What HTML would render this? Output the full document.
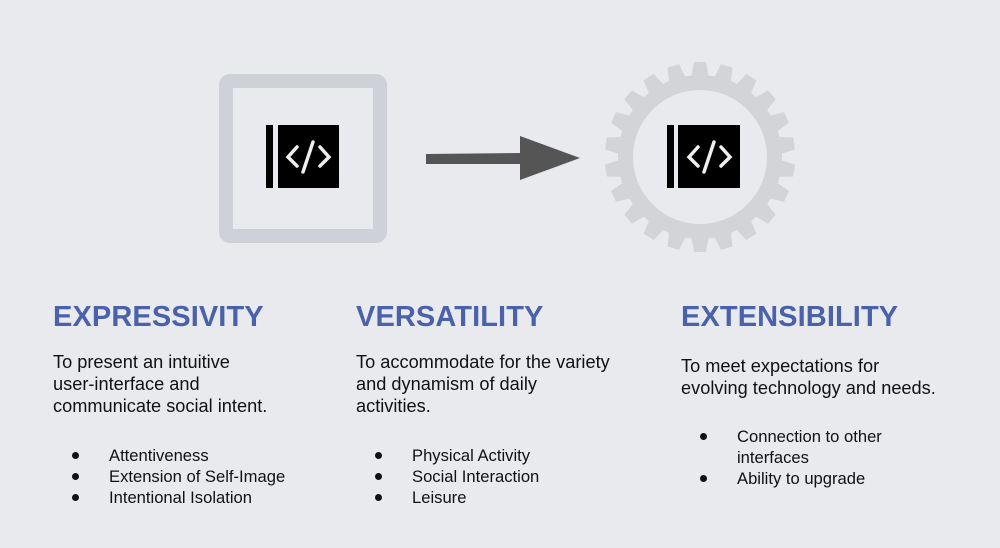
<!DOCTYPE html>
<html><head><meta charset="utf-8"><style>
body{margin:0;width:1000px;height:548px;background:#e9eaee;position:relative;overflow:hidden;font-family:"Liberation Sans",sans-serif;color:#111}
.h{position:absolute;top:301px;font-size:29px;font-weight:bold;color:#4a61ab;letter-spacing:0.1px}
.p{position:absolute;top:351px;font-size:18.2px;line-height:22px}
.ul{position:absolute;font-size:16.6px;line-height:21px}
.ul div{position:relative;padding-left:56px}
.ul div:before{content:"";position:absolute;left:19px;top:7px;width:7px;height:7px;border-radius:50%;background:#111}
</style></head><body>
<svg width="1000" height="548" style="position:absolute;left:0;top:0">
<rect x="226" y="81" width="154" height="155" rx="4" fill="none" stroke="#ced1d8" stroke-width="14"/>
<rect x="266" y="125" width="7" height="63" fill="#000"/>
<rect x="278" y="125" width="61" height="63" fill="#000"/>
<g fill="none" stroke="#eee" stroke-width="3.5" stroke-linecap="round">
<polyline points="297,147 288,157 297,166"/><polyline points="320,147 329,157 320,166"/><line x1="313" y1="142" x2="303" y2="172"/></g>
<polygon points="426,154 520,153 520,136 580,158 520,180 520,164 426,164" fill="#555"/>
<g transform="translate(700,157)" fill="#d3d4d8">
<circle r="82"/>
</g>
<g transform="translate(700,157)" fill="#d3d4d8" id="teeth"></g>
<circle cx="700" cy="157" r="67" fill="#e9eaee"/>
<rect x="667" y="125" width="7" height="63" fill="#000"/>
<rect x="678" y="125" width="62" height="63" fill="#000"/>
<g fill="none" stroke="#eee" stroke-width="3.5" stroke-linecap="round">
<polyline points="698,147 689,157 698,166"/><polyline points="721,147 730,157 721,166"/><line x1="714" y1="142" x2="704" y2="172"/></g>
</svg>
<script>
var g=document.getElementById('teeth'),s='';
for(var i=0;i<22;i++){s+='<polygon transform="rotate('+(i*360/22)+')" points="-6,-95 6,-95 9,-78 -9,-78"/>';}
g.innerHTML=s;
</script>
<div class="h" style="left:53px">EXPRESSIVITY</div>
<div class="h" style="left:356px">VERSATILITY</div>
<div class="h" style="left:681px">EXTENSIBILITY</div>
<div class="p" style="left:53px">To present an intuitive<br>user-interface and<br>communicate social intent.</div>
<div class="p" style="left:356px">To accommodate for the variety<br>and dynamism of daily<br>activities.</div>
<div class="p" style="left:681px;top:355px">To meet expectations for<br>evolving technology and needs.</div>
<div class="ul" style="left:53px;top:445px"><div>Attentiveness</div><div>Extension of Self-Image</div><div>Intentional Isolation</div></div>
<div class="ul" style="left:356px;top:445px"><div>Physical Activity</div><div>Social Interaction</div><div>Leisure</div></div>
<div class="ul" style="left:681px;top:426px"><div>Connection to other<br>interfaces</div><div>Ability to upgrade</div></div>
</body></html>
